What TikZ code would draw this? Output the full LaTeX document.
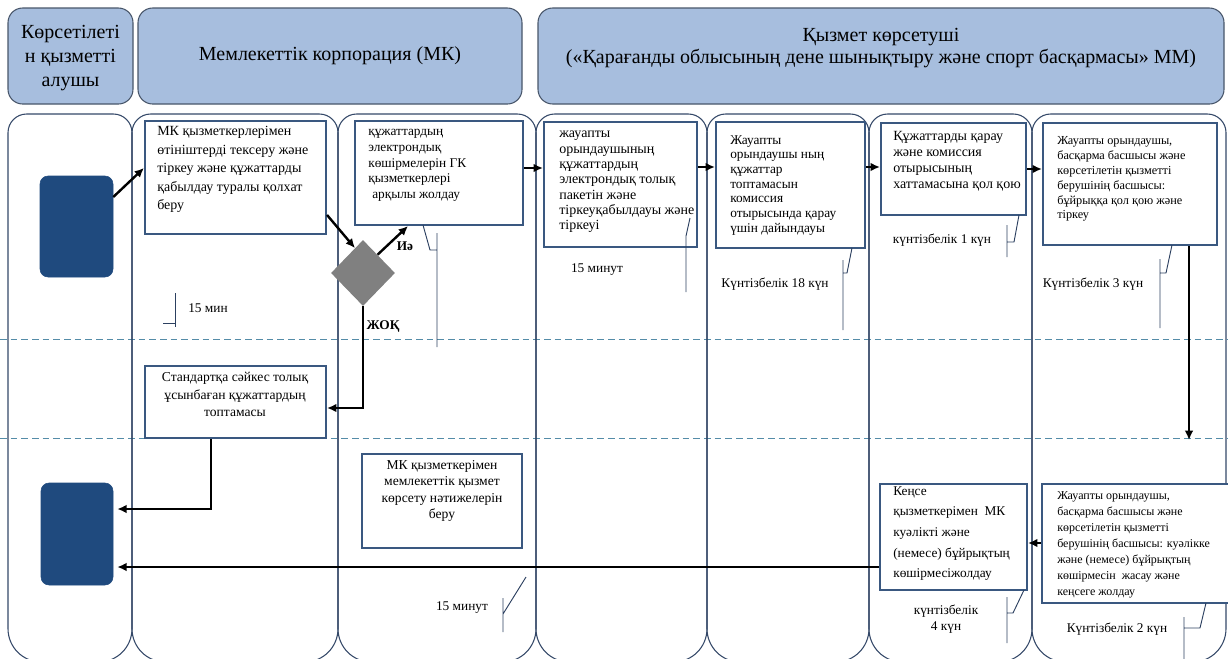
\documentclass[tikz,border=0pt]{standalone}
\usepackage{fontspec}
\setmainfont{Liberation Serif}
\usetikzlibrary{arrows.meta,fit,calc,shapes.geometric}
\definecolor{hdrfill}{RGB}{167,190,222}
\definecolor{hdrline}{RGB}{72,86,106}
\definecolor{laneline}{RGB}{52,72,104}
\definecolor{boxline}{RGB}{58,88,128}
\definecolor{navy}{RGB}{31,74,126}
\definecolor{sepcol}{RGB}{84,140,168}
\definecolor{calcol}{RGB}{44,64,96}
\definecolor{dgray}{RGB}{128,128,128}
\begin{document}
\begin{tikzpicture}[x=0.75pt,y=-0.75pt,
 hdr/.style={draw=hdrline, fill=hdrfill, line width=0.8pt, rounded corners=11pt, inner sep=0pt},
 lane/.style={draw=laneline, line width=0.8pt},
 stepbox/.style={draw=boxline, fill=white, line width=1.6pt, inner sep=0pt},
 navybox/.style={fill=navy, draw=navy, rounded corners=6pt, inner sep=0pt},
 sepline/.style={draw=sepcol, line width=0.7pt, dash pattern=on 5pt off 3pt},
 arr/.style={draw=black, line width=1.8pt, -{Latex[length=7pt,width=6.5pt]}},
 callout/.style={draw=calcol, line width=0.7pt},
 txt/.style 2 args={font=\fontsize{#1}{#2}\selectfont, inner sep=0pt, anchor=north west, align=left},
 ctxt/.style 2 args={font=\fontsize{#1}{#2}\selectfont, inner sep=0pt, anchor=north, align=center},
 lbl/.style={font=\fontsize{10pt}{12pt}\selectfont, inner sep=0pt},
 bl/.style={font=\bfseries\fontsize{10pt}{12pt}\selectfont, inner sep=0pt},
]
\useasboundingbox (0,0) rectangle (1228,658);

% separators
\draw[sepline] (0,339) -- (1228,339);
\draw[sepline] (0,438) -- (1228,438);

% lanes
\foreach \a/\b in {8/132, 132/338, 338/536, 536/707, 707/869, 869/1032, 1032/1226} {
  \draw[lane] (\a,400) [rounded corners=14pt] -- (\a,114) -- (\b,114) -- (\b,400)
     [rounded corners=25pt] -- (\b,662) -- (\a,662) -- cycle;
}

% headers
\node[hdr, fit={(8,8) (133,104)}] (h1) {};
\node[align=center, font=\fontsize{15pt}{18pt}\selectfont, inner sep=0pt] (h1t) at ($(h1.center)+(0,2)$) {Көрсетілеті\\н қызметті\\алушы};
\node[hdr, fit={(138,8) (522,104)}] (h2) {};
\node[font=\fontsize{15pt}{18pt}\selectfont, inner sep=0pt] (h2t) at (h2.center) {Мемлекеттік корпорация (МК)};
\node[hdr, fit={(538,8) (1224,104)}] (h3) {};
\node[align=center, font=\fontsize{15pt}{16.5pt}\selectfont, inner sep=0pt] (h3t) at (881,48) {Қызмет көрсетуші\\(«Қарағанды облысының дене шынықтыру және спорт басқармасы» ММ)};

% start / end shapes
\node[navybox, fit={(40,176) (113,277)}] (u1) {};
\node[navybox, fit={(41,483) (113,585)}] (u2) {};

% process boxes
\node[stepbox, fit={(145,121) (326,234)}] (b1) {};
\node[stepbox, fit={(355,121) (523,225)}] (bc) {};
\node[stepbox, fit={(544,122) (697,247)}] (bd) {};
\node[stepbox, fit={(716,122) (865,248)}] (be) {};
\node[stepbox, fit={(881,123) (1026,215)}] (bf) {};
\node[stepbox, fit={(1043,123) (1217,245)}] (bg) {};
\node[stepbox, fit={(1042,484) (1240,603)}] (bh) {};
\node[stepbox, fit={(880,484) (1027,590)}] (bi) {};
\node[stepbox, fit={(145,366) (326,438)}] (bs) {};
\node[stepbox, fit={(362,454) (522,548)}] (br) {};
\node[diamond, fill=dgray, inner sep=0pt, minimum width=48pt, minimum height=49.5pt] (dm) at (363,273) {};

% texts
\node[txt={10.5pt}{13.9pt}] (b1t) at (157,126) {МК қызметкерлерімен\\өтініштерді тексеру және\\тіркеу және құжаттарды\\қабылдау туралы қолхат\\беру};
\node[txt={10pt}{11.8pt}] (bct) at (368,129) {құжаттардың\\электрондық\\көшірмелерін ГК\\қызметкерлері\\\hspace{3pt}арқылы жолдау};
\node[txt={10.5pt}{11.5pt}] (bdt) at (559,131) {жауапты\\орындаушының\\құжаттардың\\электрондық толық\\пакетін және\\тіркеуқабылдауы және\\тіркеуі};
\node[txt={10pt}{11pt}] (bet) at (730,135) {Жауапты\\орындаушы ның\\құжаттар\\топтамасын\\комиссия\\отырысында қарау\\үшін дайындауы};
\node[txt={10.5pt}{12pt}] (bft) at (893,131) {Құжаттарды қарау\\және комиссия\\отырысының\\хаттамасына қол қою};
\node[txt={9.2pt}{11.2pt}] (bgt) at (1057,136) {Жауапты орындаушы,\\басқарма басшысы және\\көрсетілетін қызметті\\берушінің басшысы:\\бұйрыққа қол қою және\\тіркеу};
\node[txt={9pt}{12pt}] (bht) at (1057,491) {Жауапты орындаушы,\\басқарма басшысы және\\көрсетілетін қызметті\\берушінің басшысы: куәлікке\\және (немесе) бұйрықтың\\көшірмесін\ \ жасау және\\кеңсеге жолдау};
\node[txt={10pt}{15.5pt}] (bit) at (893,486) {Кеңсе\\қызметкерімен\ \ МК\\куәлікті және\\(немесе) бұйрықтың\\көшірмесіжолдау};
\node[ctxt={10.2pt}{13.1pt}] (bst) at (235,372) {Стандартқа сәйкес толық\\ұсынбаған құжаттардың\\топтамасы};
\node[ctxt={10.2pt}{12.4pt}] (brt) at (442,460) {МК қызметкерімен\\мемлекеттік қызмет\\көрсету нәтижелерін\\беру};

% labels
\node[lbl] (l1) at (208,308) {15 мин};
\node[lbl] (l2) at (597,270) {15 минут};
\node[lbl] (l3) at (775,284) {Күнтізбелік 18 күн};
\node[lbl] (l4) at (942,240) {күнтізбелік 1 күн};
\node[lbl] (l5) at (1093,284) {Күнтізбелік 3 күн};
\node[lbl] (l6) at (462,608) {15 минут};
\node[lbl, align=center, font=\fontsize{10pt}{12pt}\selectfont] (l7) at (946,619) {күнтізбелік\\4 күн};
\node[lbl] (l8) at (1117,629) {Күнтізбелік 2 күн};
\node[bl] (yes) at (405,246) {Иә};
\node[bl] (no) at (383,326) {ЖОҚ};

% arrows
\draw[arr] (u1.east |- 0,197) -- (b1.west |- 0,168);
\draw[arr] (b1.east |- 0,215) -- ($(dm.north)!0.25!(dm.west)$);
\draw[arr] ($(dm.north)!0.45!(dm.east)$) -- (408,0 |- bc.south);
\draw[arr] (dm.south) |- (bs.east |- 0,408);
\draw[arr, shorten >=3pt] (bs.south -| 211,0) |- (u2.east |- 0,509);
\draw[arr, shorten >=3pt] (bi.west |- 0,567) -- (u2.east |- 0,567);
\draw[arr] (bc.east |- 0,168) -- (bd.west |- 0,168);
\draw[arr] (bd.east |- 0,167) -- (be.west |- 0,167);
\draw[arr] (be.east |- 0,167) -- (bf.west |- 0,167);
\draw[arr] (bf.east |- 0,169) -- (bg.west |- 0,169);
\coordinate (gend) at (1189,440);
\draw[arr] (bg.south -| gend) -- (gend);
\draw[arr] (bh.west |- 0,543) -- (bi.east |- 0,543);

% callouts
\draw[callout] (175,293) -- (175,327) (163,323) -- (175,323);
\draw[callout] (437,233) -- (437,347) (423,225) -- (430,250) -- (437,250);
\draw[callout] (686,292) -- (686,236) -- (690,218);
\draw[callout] (843,260) -- (843,330) (852,248) -- (847,273) -- (843,273);
\draw[callout] (1007,225) -- (1007,257) (1019,215) -- (1014,242) -- (1007,242);
\draw[callout] (1160,259) -- (1160,328) (1172,245) -- (1166,273) -- (1160,273);
\draw[callout] (1007,597) -- (1007,643) (1024,590) -- (1013,613) -- (1007,613);
\draw[callout] (1184,617) -- (1184,662) (1206,603) -- (1200,628) -- (1184,628);
\draw[callout] (503,598) -- (503,632) (526,577) -- (503,614);
\end{tikzpicture}
\end{document}
